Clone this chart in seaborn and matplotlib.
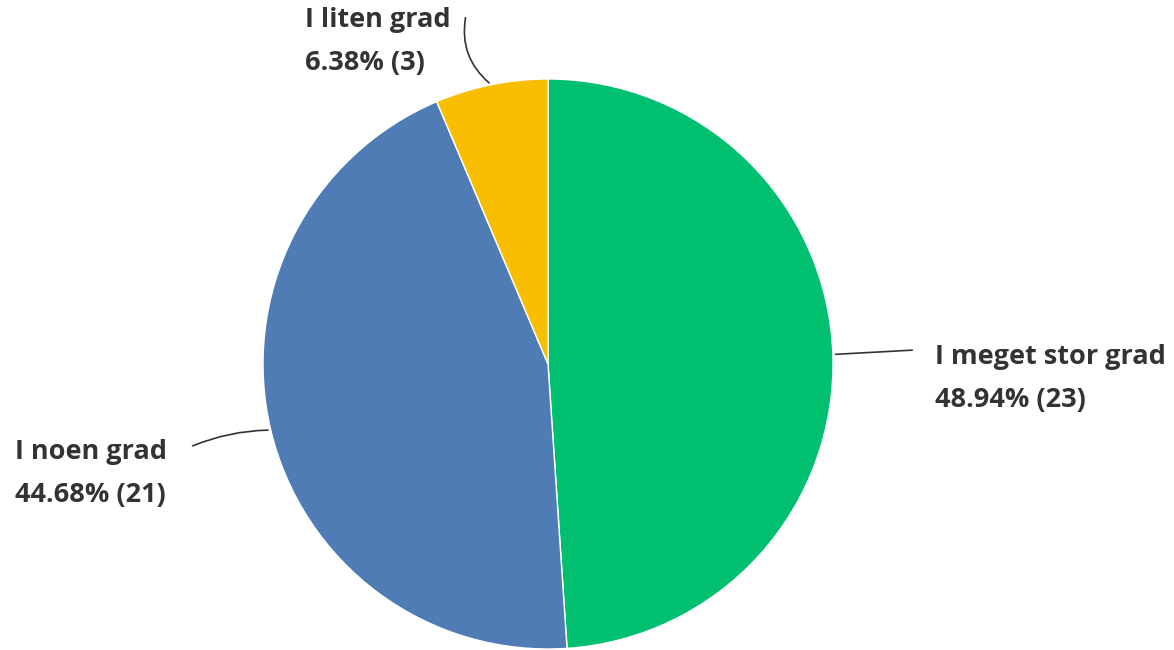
import numpy as np
import matplotlib
matplotlib.use("Agg")
import matplotlib.pyplot as plt
import seaborn as sns

categories = ["I meget stor grad", "I noen grad", "I liten grad"]
counts = [23, 21, 3]
colors = ["#00BF6F", "#507CB6", "#F9BE00"]

sns.set_theme(style="white")
plt.rcParams["font.family"] = ["Open Sans", "DejaVu Sans"]

W, H = 1174, 650
fig = plt.figure(figsize=(W / 100, H / 100), dpi=100)
ax = fig.add_axes([0, 0, 1, 1])
ax.axis("off")

cx, cy, r = 548, H - 364, 285
wedges, _ = ax.pie(counts, colors=sns.color_palette(colors), startangle=90,
                   counterclock=False, center=(cx, cy), radius=r,
                   wedgeprops=dict(edgecolor="white", linewidth=1))
ax.set_xlim(0, W)
ax.set_ylim(0, H)
ax.set_aspect("equal")

total = sum(counts)
# leader line end and label top-left (image px, y down)
line_ends = [(915, 350), (190, 447), (466, 15)]
text_pos = [(935, 357), (15, 452), (305, 20)]
rads = [0.0, -0.1, 0.3]

for w, cat, n, (lx, ly), (tx, ty), rad in zip(wedges, categories, counts, line_ends, text_pos, rads):
    mid = np.deg2rad((w.theta1 + w.theta2) / 2)
    px, py = cx + r * np.cos(mid), cy + r * np.sin(mid)
    ax.annotate("", xy=(px, py), xytext=(lx, H - ly),
                arrowprops=dict(arrowstyle="-", color="#333333", lw=1.2,
                                connectionstyle=f"arc3,rad={rad}"))
    ax.text(tx, H - ty, cat, ha="left", va="center",
            fontsize=19.5, fontweight="bold", color="#333333")
    ax.text(tx, H - ty - 43, f"{100 * n / total:.2f}% ({n})", ha="left", va="center",
            fontsize=19.5, fontweight="bold", color="#333333")

fig.savefig("out.png", dpi=100, facecolor="white")
